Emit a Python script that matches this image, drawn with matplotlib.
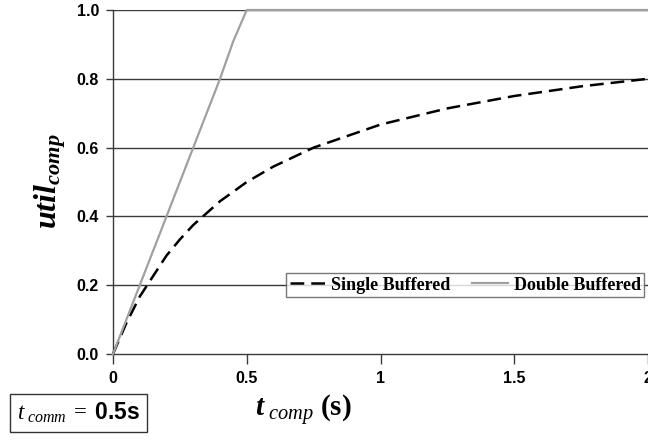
import numpy as np
import matplotlib
matplotlib.use("Agg")
import matplotlib.pyplot as plt

# values
t_single = [0.0, 0.05, 0.1, 0.2, 0.25, 0.3, 0.4, 0.5, 0.6, 0.75, 1.0, 1.25, 1.5, 1.75, 2.0]
util_single = [0.0, 0.09, 0.167, 0.286, 0.333, 0.375, 0.444, 0.5, 0.545, 0.6, 0.667, 0.714, 0.75, 0.778, 0.8]
t_double = [0.0, 0.1, 0.2, 0.3, 0.4, 0.45, 0.5, 1.0, 1.5, 2.0]
util_double = [0.0, 0.2, 0.4, 0.6, 0.8, 0.91, 1.0, 1.0, 1.0, 1.0]

x_ticks = [0, 0.5, 1, 1.5, 2]
x_tick_labels = ['0', '0.5', '1', '1.5', '2']
y_ticks = [0.0, 0.2, 0.4, 0.6, 0.8, 1.0]
y_tick_labels = ['0.0', '0.2', '0.4', '0.6', '0.8', '1.0']

plt.rcParams['mathtext.fontset'] = 'custom'
plt.rcParams['mathtext.rm'] = 'Liberation Serif'
plt.rcParams['mathtext.it'] = 'Liberation Serif:italic'
plt.rcParams['mathtext.bf'] = 'Liberation Serif:bold'
plt.rcParams['mathtext.bfit'] = 'Liberation Serif:bold:italic'
plt.rcParams['mathtext.sf'] = 'Liberation Sans:bold'

fig = plt.figure(figsize=(6.48, 4.42), dpi=100)
ax = fig.add_axes([113/648, 1 - 354/442, 535/648, 344/442])

grid_col = '#3a3a3a'
for y in y_ticks[1:]:
    ax.axhline(y, color=grid_col, lw=1.0, zorder=1)

ax.plot(t_single, util_single, color='black', lw=1.8, ls=(0, (5.5, 2.8)),
        label='Single Buffered', zorder=3, clip_on=False)
ax.plot(t_double, util_double, color='#a0a0a0', lw=1.6,
        label='Double Buffered', zorder=4, clip_on=False)

ax.set_xlim(0, 2)
ax.set_ylim(0, 1)
ax.set_xticks(x_ticks)
ax.set_xticklabels(x_tick_labels)
ax.set_yticks(y_ticks)
ax.set_yticklabels(y_tick_labels)
for lab in ax.get_xticklabels() + ax.get_yticklabels():
    lab.set_fontfamily('Liberation Sans')
    lab.set_fontweight('bold')
    lab.set_fontsize(11.5)
ax.tick_params(axis='y', direction='out', length=5, width=1, color=grid_col, pad=5)
ax.tick_params(axis='x', direction='out', length=7, width=1, color=grid_col, pad=5)

for s in ['top', 'right']:
    ax.spines[s].set_visible(False)
for s in ['left', 'bottom']:
    ax.spines[s].set_color(grid_col)
    ax.spines[s].set_linewidth(1.0)

leg = ax.legend(loc='center right', bbox_to_anchor=(0.993, 0.2), ncol=2,
                prop={'family': 'Liberation Serif', 'weight': 'bold', 'size': 13},
                frameon=True, fancybox=False, handlelength=2.0, handletextpad=0.3,
                columnspacing=1.2, borderpad=0.2, borderaxespad=0)
leg.get_frame().set_edgecolor('#555555')
leg.get_frame().set_linewidth(1.0)
leg.set_zorder(5)

fig.text(50/648, 1 - 181/442, r'$\mathbfit{util}_{\mathbfit{comp}}$', rotation=90,
         ha='center', va='center', fontsize=23)
fig.text(303/648, 1 - 410/442, r'$\mathbfit{t}_{\ \mathit{comp}}\ \mathbf{(s)}$',
         ha='center', va='center', fontsize=21)
fig.text(17/648, 1 - 413/442, r'$\mathit{t}_{\ \mathit{comm}}\;=\;\mathsf{0.5s}$',
         ha='left', va='center', fontsize=16.5,
         bbox=dict(boxstyle='square,pad=0.3', fc='white', ec='#333333', lw=1.0))

fig.savefig('out.png', dpi=100)
